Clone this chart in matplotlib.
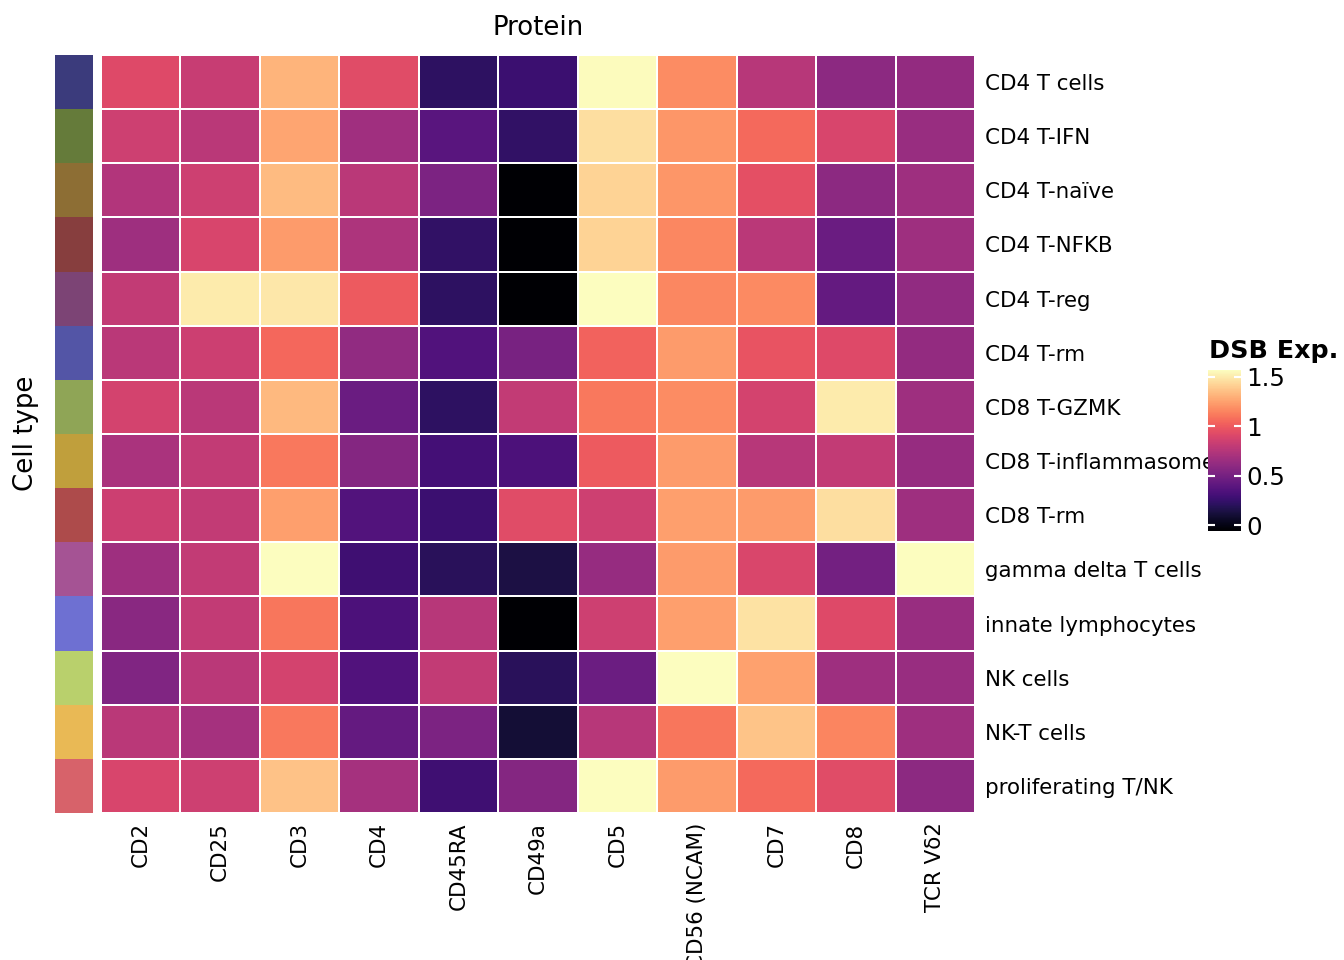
import matplotlib
matplotlib.use("Agg")
import matplotlib.pyplot as plt
import numpy as np
from matplotlib.colors import ListedColormap, Normalize

# data
proteins = ["CD2", "CD25", "CD3", "CD4", "CD45RA", "CD49a", "CD5",
            "CD56 (NCAM)", "CD7", "CD8", "TCR Vδ2"]

cell_types = ["CD4 T cells", "CD4 T-IFN", "CD4 T-naïve", "CD4 T-NFKB",
              "CD4 T-reg", "CD4 T-rm", "CD8 T-GZMK", "CD8 T-inflammasome",
              "CD8 T-rm", "gamma delta T cells", "innate lymphocytes",
              "NK cells", "NK-T cells", "proliferating T/NK"]

cell_colors = ["#3b3b7c", "#657b3a", "#8d6e34", "#873e3e", "#7c4475",
               "#5355a6", "#8fa556", "#c09f3c", "#ad4b4b", "#a55394",
               "#6e70d2", "#b9d06c", "#e9b955", "#d7626a"]

dsb_cd4_t_cells = [0.92, 0.82, 1.31, 0.93, 0.22, 0.27, 1.56, 1.18, 0.76, 0.59, 0.62]
dsb_cd4_t_ifn = [0.85, 0.77, 1.26, 0.67, 0.38, 0.23, 1.46, 1.21, 1.06, 0.89, 0.64]
dsb_cd4_t_naive = [0.74, 0.85, 1.34, 0.77, 0.53, -0.06, 1.42, 1.21, 0.95, 0.59, 0.66]
dsb_cd4_t_nfkb = [0.66, 0.89, 1.23, 0.72, 0.23, -0.06, 1.42, 1.16, 0.77, 0.45, 0.66]
dsb_cd4_t_reg = [0.80, 1.50, 1.49, 1.00, 0.22, -0.06, 1.57, 1.16, 1.17, 0.43, 0.61]
dsb_cd4_t_rm = [0.77, 0.84, 1.05, 0.61, 0.35, 0.51, 1.03, 1.23, 0.97, 0.92, 0.62]
dsb_cd8_t_gzmk = [0.87, 0.77, 1.33, 0.45, 0.22, 0.80, 1.11, 1.18, 0.87, 1.50, 0.66]
dsb_cd8_t_inflam = [0.71, 0.80, 1.11, 0.56, 0.30, 0.33, 1.00, 1.23, 0.76, 0.80, 0.63]
dsb_cd8_t_rm = [0.84, 0.80, 1.24, 0.36, 0.27, 0.93, 0.85, 1.24, 1.23, 1.46, 0.66]
dsb_gd_t = [0.66, 0.80, 1.57, 0.28, 0.20, 0.14, 0.63, 1.23, 0.90, 0.49, 1.57]
dsb_innate = [0.58, 0.80, 1.10, 0.33, 0.76, -0.06, 0.85, 1.24, 1.47, 0.92, 0.64]
dsb_nk = [0.54, 0.77, 0.87, 0.35, 0.80, 0.20, 0.46, 1.57, 1.25, 0.66, 0.64]
dsb_nkt = [0.77, 0.69, 1.11, 0.43, 0.53, 0.10, 0.76, 1.10, 1.37, 1.15, 0.66]
dsb_prolif = [0.89, 0.85, 1.36, 0.69, 0.28, 0.56, 1.57, 1.23, 1.06, 0.93, 0.59]

dsb = np.array([dsb_cd4_t_cells, dsb_cd4_t_ifn, dsb_cd4_t_naive, dsb_cd4_t_nfkb,
                dsb_cd4_t_reg, dsb_cd4_t_rm, dsb_cd8_t_gzmk, dsb_cd8_t_inflam,
                dsb_cd8_t_rm, dsb_gd_t, dsb_innate, dsb_nk, dsb_nkt, dsb_prolif])

nrow, ncol = dsb.shape
norm = Normalize(vmin=dsb.min(), vmax=dsb.max())

fig = plt.figure(figsize=(7, 5), dpi=192)
W, H = 1344, 960

def px(x0, y0, x1, y1):
    return [x0 / W, 1 - y1 / H, (x1 - x0) / W, (y1 - y0) / H]

ax = fig.add_axes(px(101, 55, 975, 813))
ax_ann = fig.add_axes(px(55, 55, 93, 813))
cax = fig.add_axes(px(1208, 370, 1241, 531))

mesh = ax.pcolormesh(dsb, cmap="magma", norm=norm, edgecolors="white", linewidth=0.7)
ax.set_xlim(0, ncol)
ax.set_ylim(nrow, 0)
ax.set_xticks(np.arange(ncol) + 0.5)
ax.set_xticklabels(proteins, rotation=90, fontsize=8)
ax.set_yticks(np.arange(nrow) + 0.5)
ax.set_yticklabels(cell_types, fontsize=8)
ax.yaxis.tick_right()
ax.tick_params(axis="both", length=0)
ax.tick_params(axis="x", pad=3.5)
ax.tick_params(axis="y", pad=3.6)
for s in ax.spines.values():
    s.set_visible(False)

# annotation strip with the cell type colours
ax_ann.pcolormesh(np.arange(nrow).reshape(-1, 1), cmap=ListedColormap(cell_colors))
ax_ann.set_ylim(nrow, 0)
ax_ann.set_xticks([])
ax_ann.set_yticks([])
for s in ax_ann.spines.values():
    s.set_visible(False)

cbar = fig.colorbar(mesh, cax=cax, ticks=[0, 0.5, 1, 1.5])
cbar.ax.set_yticklabels(["0", "0.5", "1", "1.5"])
cbar.outline.set_visible(False)
cbar.ax.yaxis.set_ticks_position("both")
cbar.ax.tick_params(direction="in", color="white", length=2.6, width=0.8,
                    labelsize=9.2, labelleft=False, labelright=True, pad=2)

fig.text(1209 / W, 1 - 358 / H, "DSB Exp.", fontsize=9.5, fontweight="bold",
         ha="left", va="baseline")
fig.text(538 / W, 1 - 35 / H, "Protein", fontsize=9.75, ha="center", va="baseline")
fig.text(39 / W, 1 - 433 / H, "Cell type", fontsize=9.75, rotation=90,
         ha="right", va="center")

fig.savefig("out.png", dpi=192, facecolor="white")
